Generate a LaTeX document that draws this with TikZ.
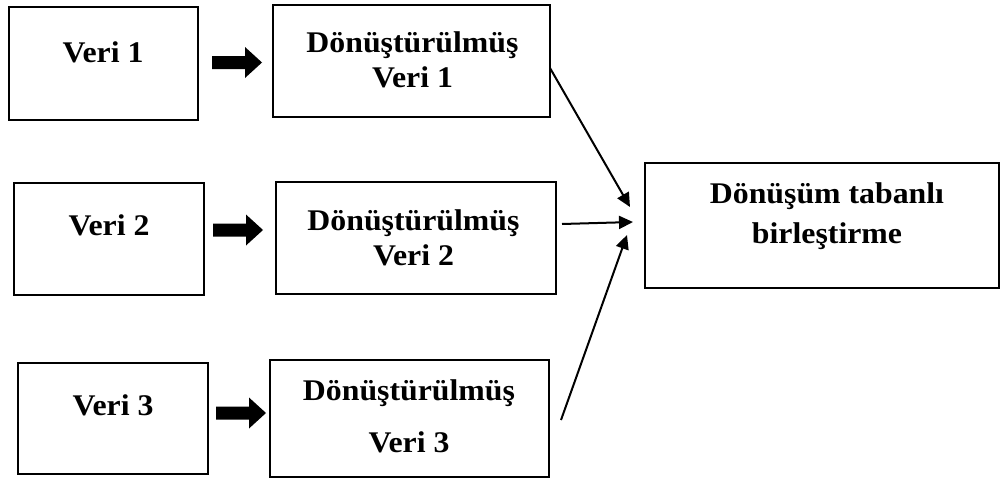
\documentclass[tikz,border=0pt]{standalone}
\usepackage{fontspec}
\setmainfont{Liberation Serif}[FakeStretch=1.06]
\usetikzlibrary{arrows.meta}
\begin{document}
\begin{tikzpicture}[x=1pt,y=-1pt,
  box/.style={draw=black, line width=2.6pt, fill=white},
  lbl/.style={font=\bfseries\fontsize{30}{35}\selectfont, inner sep=0pt, anchor=base},
  conn/.style={line width=2pt, -{Triangle[length=14pt,width=13pt]}},
  blockarr/.pic={\fill[black] (0,-6.5) -- (33,-6.5) -- (33,-15.5) -- (50,0) -- (33,15.5) -- (33,6.5) -- (0,6.5) -- cycle;}
]
\useasboundingbox (0,0) rectangle (1001,479);
% source boxes
\draw[box] (9,7) rectangle (198,120) node[pos=0.5, inner sep=0] (v1) {};
\draw[box] (14,183) rectangle (204,295) node[pos=0.5, inner sep=0] (v2) {};
\draw[box] (18,363) rectangle (208,474) node[pos=0.5, inner sep=0] (v3) {};
% transformed boxes
\draw[box] (273,5) rectangle (550,117) node[pos=0.5, inner sep=0] (d1) {};
\draw[box] (276,182) rectangle (556,294) node[pos=0.5, inner sep=0] (d2) {};
\draw[box] (270,360) rectangle (549,477) node[pos=0.5, inner sep=0] (d3) {};
% fusion box
\draw[box] (645,163) rectangle (999,288) node[pos=0.5, inner sep=0] (f) {};
% labels
\node[lbl] (v1t) at (103,62) {Veri 1};
\node[lbl] (v2t) at (109,235) {Veri 2};
\node[lbl] (v3t) at (113,415) {Veri 3};
\node[lbl] (d1a) at (412.5,52) {Dönüştürülmüş};
\node[lbl] (d1b) at (412.5,87) {Veri 1};
\node[lbl] (d2a) at (413.5,230) {Dönüştürülmüş};
\node[lbl] (d2b) at (413.5,265) {Veri 2};
\node[lbl] (d3a) at (409,400) {Dönüştürülmüş};
\node[lbl] (d3b) at (409,452) {Veri 3};
\node[lbl] (fa) at (827,203) {Dönüşüm tabanlı};
\node[lbl] (fb) at (827,243) {birleştirme};
% block arrows
\pic (b1) at (212,62.5) {blockarr};
\pic (b2) at (213,230) {blockarr};
\pic (b3) at (216,413) {blockarr};
% connectors
\coordinate (s1) at (550,68);
\coordinate (s2) at (562,224);
\coordinate (s3) at (561,420);
\coordinate (e1) at (630,207);
\coordinate (e2) at (633,222);
\coordinate (e3) at (627,235);
\draw[conn] (s1) -- (e1);
\draw[conn] (s2) -- (e2);
\draw[conn] (s3) -- (e3);
\end{tikzpicture}
\end{document}
